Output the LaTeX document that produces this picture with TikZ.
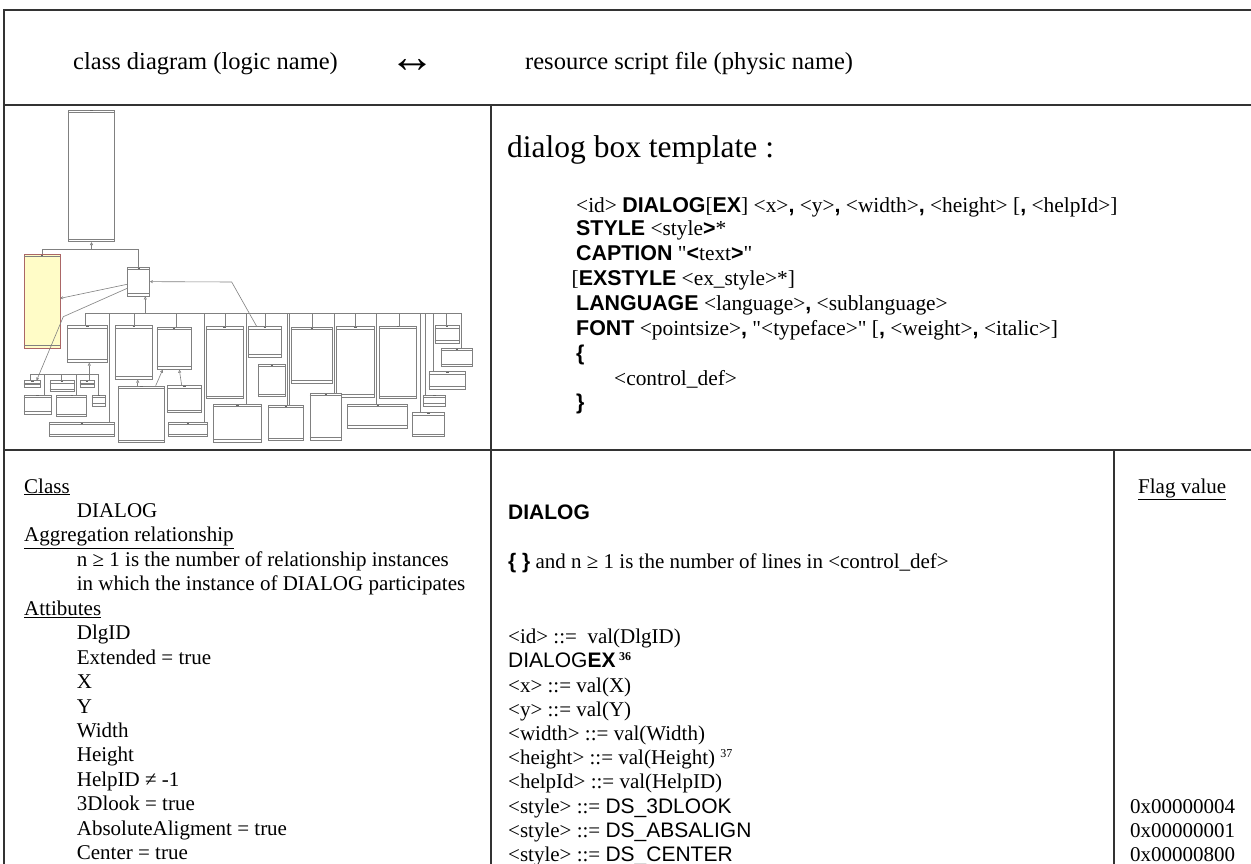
\documentclass[tikz,border=0pt]{standalone}
\usepackage{fontspec}
\setmainfont{Liberation Serif}
\newfontfamily\sansfam{Liberation Sans}
\newfontfamily\rawserif{Liberation Serif}[Ligatures=TeXOff]
\usetikzlibrary{arrows.meta,fit}
\newcommand\sbf[1]{{\sansfam\bfseries #1}}
\newcommand\sff[1]{{\sansfam #1}}
\newcommand\dq{{\rawserif\char"22}}
\tikzset{
  frame/.style={line width=2pt, draw=black!80},
  txt/.style={anchor=base west, inner sep=0pt, font=\fontsize{21}{24}\selectfont},
  tpl/.style={anchor=base west, inner sep=0pt, font=\fontsize{21.4}{24}\selectfont},
  head/.style={anchor=base west, inner sep=0pt, font=\fontsize{24.5}{28}\selectfont},
  ubox/.style={draw=black!50, line width=0.7pt, inner sep=0pt, fill=white},
  yelbox/.style={draw=red!45!black!60, line width=0.8pt, inner sep=0pt, fill=yellow!22},
  uline/.style={draw=black!50, line width=0.6pt},
  gen/.style={-{Triangle[open,length=3pt,width=3pt]}},
  asc/.style={-{Straight Barb[length=2pt,width=2.5pt]}}
}
\newcommand\umlb[6][ubox]{%
  \node[#1, fit={(#3,#4) (#5,#6)}] (#2) {};
  \draw[uline] ([yshift=-2.5pt]#2.north west) -- ([yshift=-2.5pt]#2.north east);
  \draw[uline] ([yshift=3pt]#2.south west) -- ([yshift=3pt]#2.south east);
  \draw[black!60, line width=0.8pt] ([yshift=-1.2pt,xshift=-1.2pt]#2.north) -- ++(2.4pt,0);
}
\begin{document}
\begin{tikzpicture}[x=1pt,y=-1pt]
\useasboundingbox (0,0) rectangle (1251,864);
\fill[white] (0,0) rectangle (1251,864);

% ---------- table frame ----------
\draw[frame] (1253,10.5) -- (4,10.5) -- (4,866);
\draw[frame] (4,105) -- (1253,105);
\draw[frame] (4,449.5) -- (1253,449.5);
\draw[frame] (491,105) -- (491,866);
\draw[frame] (1113.5,449.5) -- (1113.5,866);

% ---------- header ----------
\node[head] (h1) at (73,70) {class diagram (logic name)};
\node[anchor=base west, inner sep=0pt, font=\fontsize{46}{50}\selectfont] (h2) at (389,73) {↔};
\node[head] (h3) at (525,70) {resource script file (physic name)};

% ---------- class diagram thumbnail ----------
\umlb{A}{68.3}{110}{114.7}{241.7}
\umlb[yelbox]{Y}{24.3}{254.3}{60}{348.3}
\umlb{H}{127.7}{267.3}{149.7}{296}
\umlb{B1}{67.3}{325.7}{107.7}{362.3}
\umlb{B2}{115.3}{325.7}{152.3}{379.3}
\umlb{B3}{157}{327.3}{191}{369.3}
\umlb{B4}{206}{326.7}{243.3}{398.7}
\umlb{B5}{248.7}{326.7}{281}{357.3}
\umlb{B6}{291.3}{327.3}{332.3}{383.3}
\umlb{B7}{336.3}{326.7}{374.7}{397.3}
\umlb{B8}{379.3}{326}{416.7}{398.7}
\umlb{B9}{435}{325.7}{459.3}{343.3}
\umlb{B10}{441}{348.3}{472.7}{366.7}
\umlb{B11}{429}{371.7}{465.7}{389.3}
\umlb{B12}{423.3}{395}{445.7}{406}
\umlb{B13}{412.3}{412.7}{444.3}{436.7}
\umlb{B14}{347.7}{404.3}{407.7}{428.3}
\umlb{B15}{310}{393.3}{341.7}{440}
\umlb{B16}{268.3}{405.3}{303.3}{440.7}
\umlb{B17}{258.3}{364.3}{285.7}{396.7}
\umlb{B18}{213.3}{404.3}{261.7}{442.3}
\umlb{B19}{168.3}{422.3}{207.7}{436.7}
\umlb{B20}{167.3}{385.7}{201.7}{412.7}
\umlb{B21}{118.3}{386}{164.3}{442.7}
\umlb{B22}{49.3}{422.3}{114.3}{436.7}
\umlb{C1}{24}{380.7}{40.7}{387.3}
\umlb{C2}{50}{380.7}{74}{391.7}
\umlb{C3}{80}{380.7}{94.3}{387.3}
\umlb{C4}{24}{395}{51.3}{414.3}
\umlb{C5}{56.7}{395}{86.7}{416.7}
\umlb{C6}{92}{395}{105.7}{406}

% generalization to the top class
\coordinate (g1) at (91.5,249.3);
\draw[uline] (Y.north) |- (g1) -| (H.north);
\draw[uline,gen] (g1) -- (A.south);
% associations of the hub
\coordinate (k1) at (63.3,316.7);
\coordinate (k2) at (231.7,282);
\draw[uline,asc] ([yshift=-2.6pt]H.west) -- ([yshift=3pt]Y.east);
\draw[uline,asc] ([yshift=-6.6pt]H.west) -- (k1) -- ([xshift=4.3pt]C1.north);
\draw[uline,asc] ([xshift=-8.2pt]B5.north) -- (k2) -- (H.east);
% main bus
\coordinate (bw) at (85,313.3);
\coordinate (be) at (461.7,313.3);
\draw[uline] (bw) -- (be);
\path ([xshift=6.6pt]H.south) coordinate (hs);
\draw[uline,gen] (hs |- bw) -- (hs);
\foreach \b/\s in {B1/-2.5, B2/0.2, B3/2.7, B4/0.3, B5/0.8, B6/0.5, B7/0.2, B8/1.3,
  B9/-0.4, B10/4.8, B22/27.2, B19/16, B18/8.5, B16/1.2, B16/3.7, B15/8.15,
  B14/-1, B13/-7.6, B12/-9.5, B11/-14}{
  \path ([xshift=\s pt]\b.north) coordinate (t);
  \draw[uline] (t) -- (t |- bw);
}
% small cluster under B1
\coordinate (cw) at (30.7,374.3);
\coordinate (ce) at (98.3,374.3);
\draw[uline] (cw) -- (ce);
\path ([xshift=1.8pt]B1.south) coordinate (b1s);
\draw[uline,gen] (b1s |- cw) -- (b1s);
\foreach \b/\s in {C1/-1.65, C2/-0.3, C3/2.15, C4/6.65, C5/5, C6/-0.55}{
  \path ([xshift=\s pt]\b.north) coordinate (t);
  \draw[uline] (t) -- (t |- cw);
}
% generalizations of B2 and B3
\path ([xshift=-3.6pt]B21.north) coordinate (t2);
\draw[uline,gen] (t2) -- (t2 |- B2.south);
\draw[uline,gen] ([xshift=14.4pt]B21.north) -- ([xshift=-11.3pt]B3.south);
\draw[uline,gen] ([xshift=-2.8pt]B20.north) -- ([xshift=5.3pt]B3.south);

% ---------- dialog box template ----------
\node[anchor=base west, inner sep=0pt, font=\fontsize{31.5}{36}\selectfont] (tt) at (507,158) {dialog box template :};
\node[tpl] (t1) at (576,212) {<id> \sbf{DIALOG}[\sbf{EX}] <x>\sbf{,} <y>\sbf{,} <width>\sbf{,} <height> [\sbf{,} <helpId>]};
\node[tpl] (t2n) at (576,236) {\sbf{STYLE} <style\sbf{>}*};
\node[tpl] (t3) at (576,260) {\sbf{CAPTION} \dq\sbf{<}text\sbf{>}\dq};
\node[tpl] (t4) at (571.5,285) {[\sbf{EXSTYLE} <ex\_style>*]};
\node[tpl] (t5) at (576,310) {\sbf{LANGUAGE} <language>\sbf{,} <sublanguage>};
\node[tpl] (t6) at (576,335) {\sbf{FONT} <pointsize>\sbf{,} \dq<typeface>\dq{} [\sbf{,} <weight>\sbf{,} <italic>]};
\node[tpl] (t7) at (576,360) {\sbf{\{}};
\node[tpl] (t8) at (614,385) {<control\_def>};
\node[tpl] (t9) at (576,409) {\sbf{\}}};

% ---------- class description (left) ----------
\foreach \x/\t [count=\i] in {
  24/{\underline{Class}},
  76.7/{DIALOG},
  24/{\underline{Aggregation relationship}},
  76.7/{n ≥ 1 is the number of relationship instances},
  76.7/{in which the instance of DIALOG participates},
  24/{\underline{Attibutes}},
  76.7/{DlgID},
  76.7/{Extended = true},
  76.7/{X},
  76.7/{Y},
  76.7/{Width},
  76.7/{Height},
  76.7/{HelpID ≠ -1},
  76.7/{3Dlook = true},
  76.7/{AbsoluteAligment = true},
  76.7/{Center = true}}{
  \node[txt] (L\i) at (\x, {493+24.45*(\i-1)}) {\t};
}

% ---------- resource script (middle) ----------
\foreach \y/\t [count=\i] in {
  519/{\sbf{DIALOG}},
  568/{\sbf{\{ \}} and n ≥ 1 is the number of lines in <control\_def>},
  643/{<id> ::=~ val(DlgID)},
  667/{\sff{DIALOG}\sbf{EX}\,\raisebox{7pt}{\fontsize{12}{12}\selectfont\bfseries 36}},
  692/{<x> ::= val(X)},
  716/{<y> ::= val(Y)},
  740/{<width> ::= val(Width)},
  764.5/{<height> ::= val(Height) \raisebox{7pt}{\fontsize{12}{12}\selectfont 37}},
  788.5/{<helpId> ::= val(HelpID)},
  813/{<style> ::= \sff{DS\_3DLOOK}},
  837.5/{<style> ::= \sff{DS\_ABSALIGN}},
  861/{<style> ::= \sff{DS\_CENTER}}}{
  \node[txt] (R\i) at (508,\y) {\t};
}

% ---------- flag values (right) ----------
\node[txt] (F0) at (1138,493) {\underline{Flag value}};
\node[txt] (F1) at (1130,813) {0x00000004};
\node[txt] (F2) at (1130,837.5) {0x00000001};
\node[txt] (F3) at (1130,861) {0x00000800};
\end{tikzpicture}
\end{document}
